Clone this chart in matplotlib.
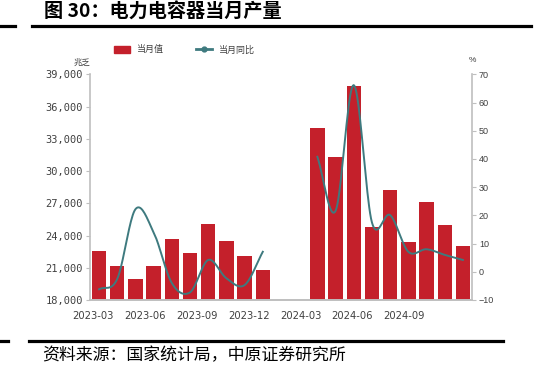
import matplotlib
matplotlib.use('Agg')
import matplotlib.pyplot as plt
from matplotlib.lines import Line2D
from matplotlib.patches import Patch
import numpy as np

plt.rcParams['font.family'] = ['Noto Sans CJK SC', 'DejaVu Sans']

# monthly data, 2023-03 .. 2024-11 (2024-01/02 not published)
months = ['2023-03', '2023-04', '2023-05', '2023-06', '2023-07', '2023-08', '2023-09',
          '2023-10', '2023-11', '2023-12', '2024-01', '2024-02', '2024-03', '2024-04',
          '2024-05', '2024-06', '2024-07', '2024-08', '2024-09', '2024-10', '2024-11']
output = [22550, 21190, 19930, 21130, 23680, 22350, 25040, 23520, 22090, 20790,
          np.nan, np.nan, 34030, 31310, 37890, 24820, 28240, 23430, 27150, 25010, 22990]
yoy = [-6.2, -2.5, 22.2, 14.0, -4.0, -7.3, 4.2, -2.3, -4.7, 7.1,
       np.nan, np.nan, 40.8, 21.6, 66.2, 17.5, 20.1, 7.1, 8.0, 6.0, 4.2]
tick_labels = ['2023-03', '2023-06', '2023-09', '2023-12', '2024-03', '2024-06', '2024-09']

bar_color = '#C4202B'
line_color = '#3E7A7F'
grey = '#BFBFBF'


def smooth(xs, ys, n=20):
    # catmull-rom style smoothing like the excel "smoothed line"
    xs = np.asarray(xs, float)
    ys = np.asarray(ys, float)
    m = np.zeros_like(ys)
    m[1:-1] = (ys[2:] - ys[:-2]) / (xs[2:] - xs[:-2])
    m[0] = (ys[1] - ys[0]) / (xs[1] - xs[0])
    m[-1] = (ys[-1] - ys[-2]) / (xs[-1] - xs[-2])
    out_x, out_y = [], []
    for i in range(len(xs) - 1):
        h = xs[i + 1] - xs[i]
        t = np.linspace(0, 1, n, endpoint=False)
        h00 = 2 * t**3 - 3 * t**2 + 1
        h10 = t**3 - 2 * t**2 + t
        h01 = -2 * t**3 + 3 * t**2
        h11 = t**3 - t**2
        out_x.extend(xs[i] + t * h)
        out_y.extend(h00 * ys[i] + h10 * h * m[i] + h01 * ys[i + 1] + h11 * h * m[i + 1])
    out_x.append(xs[-1])
    out_y.append(ys[-1])
    return np.array(out_x), np.array(out_y)


fig = plt.figure(figsize=(5.51, 3.69), dpi=100)
ax = fig.add_axes([0.1633, 0.187, 0.6933, 0.6114])
ax2 = ax.twinx()

x = np.arange(len(months))
ax.bar(x, output, width=0.79, color=bar_color, zorder=2)
ax.set_xlim(-0.5, len(months) - 0.5)
ax.set_ylim(18000, 39000)
ax.set_yticks(np.arange(18000, 39001, 3000))
ax.set_yticklabels([f'{v:,}' for v in range(18000, 39001, 3000)],
                   family='DejaVu Sans Mono', fontsize=7.5, color='#404040')
ax.tick_params(axis='y', length=3, color=grey, pad=2)

# tick labels sit a little left of the bar centres in the original
ax.set_xticks(np.arange(len(tick_labels)) * 2.85 - 0.33)
ax.set_xticklabels(tick_labels, fontsize=7.2, color='#404040', family='DejaVu Sans')
ax.tick_params(axis='x', length=0, pad=8)

yoy_arr = np.array(yoy)
for seg in [slice(0, 10), slice(12, 21)]:
    sx, sy = smooth(x[seg], yoy_arr[seg])
    ax2.plot(sx, sy, color=line_color, lw=1.4, zorder=3)
ax2.set_ylim(-10, 70)
ax2.set_yticks(np.arange(-10, 71, 10))
ax2.tick_params(axis='y', length=3, color=grey, labelsize=6.5, labelcolor='#404040', pad=2)
for t in ax2.get_yticklabels():
    t.set_family('Liberation Sans')

for a in (ax, ax2):
    a.spines['top'].set_visible(False)
    for s in ('left', 'right', 'bottom'):
        a.spines[s].set_color(grey)
        a.spines[s].set_linewidth(1.2)
ax.spines['right'].set_visible(False)
ax2.spines['left'].set_visible(False)

fig.text(0.1633, 0.832, '兆乏', fontsize=6, color='#404040', ha='right', va='center')
fig.text(0.8566, 0.835, '%', fontsize=6, color='#404040', ha='center', va='center',
         family='Liberation Sans')

handles = [Patch(color=bar_color),
           Line2D([0], [0], color=line_color, lw=2, marker='o', markersize=3.5)]
fig.legend(handles, ['当月值', '当月同比'], loc='center', bbox_to_anchor=(0.335, 0.865),
           ncol=2, frameon=False, fontsize=6.5, handlelength=1.8, handleheight=0.9,
           columnspacing=3.5, labelcolor='#404040')

fig.text(0.08, 0.967, '图 30：电力电容器当月产量', fontsize=13.8, fontweight='bold',
         ha='left', va='center', color='black')
fig.text(0.076, 0.038, '资料来源：国家统计局，中原证券研究所', fontsize=12.2,
         ha='left', va='center', color='black')

fig.add_artist(Line2D([0.058, 0.9637], [0.9295, 0.9295], color='black', lw=2.3))
fig.add_artist(Line2D([0.0, 0.027], [0.9295, 0.9295], color='black', lw=2.3))
fig.add_artist(Line2D([0.0526, 0.9129], [0.0759, 0.0759], color='black', lw=2.3))
fig.add_artist(Line2D([0.0, 0.0145], [0.0759, 0.0759], color='black', lw=2.3))

fig.savefig('out.png', dpi=100)
